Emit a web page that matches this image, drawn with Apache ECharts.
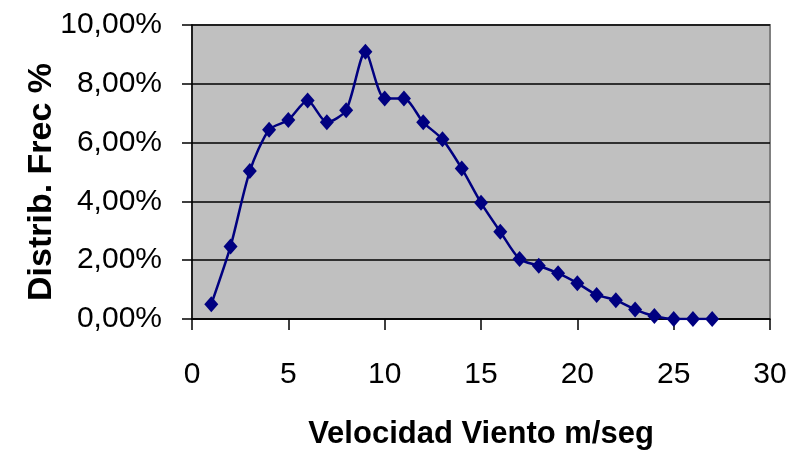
<!DOCTYPE html>
<html>
<head>
<meta charset="utf-8">
<script src="https://cdn.jsdelivr.net/npm/echarts@6/dist/echarts.min.js"></script>
<style>
  html, body { margin: 0; padding: 0; background: #ffffff; }
  #chart { width: 792px; height: 462px; }
</style>
</head>
<body>
<div id="chart"></div>
<script>
// Wind speed (m/s) and frequency distribution (%)
const windSpeed = [1, 2, 3, 4, 5, 6, 7, 8, 9, 10, 11, 12, 13, 14, 15, 16, 17, 18, 19, 20, 21, 22, 23, 24, 25, 26, 27];
const frequency = [0.50, 2.47, 5.03, 6.44, 6.77, 7.43, 6.69, 7.10, 9.09, 7.50, 7.50, 6.69, 6.11, 5.12, 3.95, 2.97, 2.04, 1.81, 1.56, 1.22, 0.82, 0.64, 0.32, 0.10, 0.00, 0.00, 0.00];

const xTicks = { min: 0, max: 30, interval: 5 };
const yTicks = { min: 0, max: 10, interval: 2 };

const xTitle = 'Velocidad Viento m/seg';
const yTitle = 'Distrib. Frec %';

const font = '"Liberation Sans", Arial, sans-serif';

const points = windSpeed.map((v, i) => [v, frequency[i]]);

const chart = echarts.init(document.getElementById('chart'), null, { renderer: 'canvas' });

chart.setOption({
  animation: false,
  backgroundColor: '#ffffff',
  grid: {
    left: 192, right: 22, top: 25, bottom: 143,
    outerBoundsMode: 'none',
    containLabel: false,
    show: true,
    backgroundColor: '#c0c0c0',
    borderColor: '#808080',
    borderWidth: 2
  },
  xAxis: {
    type: 'value',
    min: xTicks.min, max: xTicks.max, interval: xTicks.interval,
    name: xTitle,
    nameLocation: 'middle',
    nameGap: 100,
    nameMoveOverlap: false,
    nameTextStyle: { fontFamily: font, fontWeight: 'bold', fontSize: 31, color: '#000' },
    axisLine: { onZero: false, lineStyle: { color: '#000', width: 1.5 } },
    axisTick: { show: true, inside: false, length: 11, lineStyle: { color: '#000', width: 1.5 } },
    axisLabel: { fontFamily: font, fontSize: 30, color: '#000', margin: 41 },
    splitLine: { show: false }
  },
  yAxis: {
    type: 'value',
    min: yTicks.min, max: yTicks.max, interval: yTicks.interval,
    name: yTitle,
    nameLocation: 'middle',
    nameRotate: 90,
    nameGap: 133,
    nameMoveOverlap: false,
    nameTextStyle: { fontFamily: font, fontWeight: 'bold', fontSize: 34, color: '#000', padding: [0, 20, 0, 0] },
    axisLine: { show: true, lineStyle: { color: '#000', width: 1.5 } },
    axisTick: { show: true, inside: false, length: 10, lineStyle: { color: '#000', width: 1.5 } },
    axisLabel: {
      fontFamily: font, fontSize: 30, color: '#000', margin: 30,
      formatter: v => v.toFixed(2).replace('.', ',') + '%'
    },
    splitLine: { show: true, lineStyle: { color: '#000', width: 1.5 } }
  },
  series: [{
    type: 'line',
    data: points,
    smooth: 0.25,
    symbol: 'diamond',
    symbolSize: [14, 16],
    lineStyle: { color: '#000080', width: 2.5 },
    itemStyle: { color: '#000080' },
    z: 3
  }]
});
</script>
</body>
</html>
